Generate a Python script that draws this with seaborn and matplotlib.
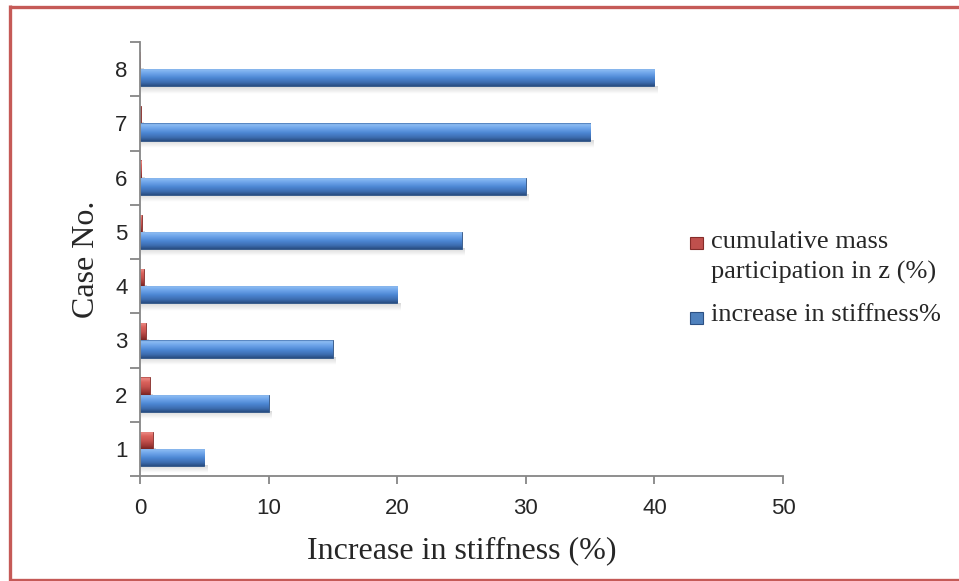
import numpy as np
import pandas as pd
import matplotlib
matplotlib.use("Agg")
import matplotlib.pyplot as plt
import seaborn as sns
from matplotlib.colors import LinearSegmentedColormap
from matplotlib.patches import Rectangle
from matplotlib.lines import Line2D

# Data
cases = ["1", "2", "3", "4", "5", "6", "7", "8"]
stiffness_increase = [5, 10, 15, 20, 25, 30, 35, 40]
mass_participation = [1.0, 0.75, 0.45, 0.3, 0.15, 0.1, 0.05, 0.02]
series_names = ["cumulative mass\nparticipation in z (%)", "increase in stiffness%"]
x_ticks = [0, 10, 20, 30, 40, 50]

df = pd.DataFrame({
    "case": cases * 2,
    "value": mass_participation + stiffness_increase,
    "series": [series_names[0]] * len(cases) + [series_names[1]] * len(cases),
})

sns.set_style("white")
plt.rcParams["font.family"] = ["Liberation Sans", "DejaVu Sans"]
SERIF = ["Liberation Serif", "DejaVu Serif"]

RED = "#C0504D"
BLUE = "#4F81BD"
AXIS_GREY = "#868686"
W, H = 959, 581

fig = plt.figure(figsize=(W / 100, H / 100), dpi=100)
ax = fig.add_axes([140 / W, 1 - 476 / H, 643 / W, 434 / H])

sns.barplot(
    data=df, y="case", x="value", hue="series",
    order=cases[::-1], hue_order=series_names,
    palette=[RED, BLUE], width=0.64, orient="h",
    errorbar=None, legend=False, ax=ax,
)

ax.set_xlim(0, 50)
ax.set_ylim(7.5, -0.5)
ax.set_autoscale_on(False)

# Bevel-like vertical shading for each bar
blue_cmap = LinearSegmentedColormap.from_list(
    "blue_bevel",
    [(0.0, "#3A68A6"), (0.07, "#8FBDF3"), (0.28, "#6EA5EA"),
     (0.55, "#4C86D3"), (0.8, "#3D6DB0"), (1.0, "#284C80")])
red_cmap = LinearSegmentedColormap.from_list(
    "red_bevel",
    [(0.0, "#A8403D"), (0.07, "#EC8A84"), (0.28, "#DA625C"),
     (0.55, "#C4514D"), (0.8, "#A03936"), (1.0, "#782523")])
edge_cols = ["#862C29", "#2C5184"]

grad = np.linspace(0, 1, 128).reshape(-1, 1)
shadow = np.zeros((32, 1, 4))
shadow[..., :3] = 0.55
shadow[:, 0, 3] = np.linspace(0.35, 0.0, 32)

for container, cmap, ec in zip(ax.containers, [red_cmap, blue_cmap], edge_cols):
    for p in container.patches:
        x0, w = p.get_x(), p.get_width()
        y0, h = p.get_y(), p.get_height()
        p.set_edgecolor(ec)
        p.set_linewidth(0.6)
        ax.imshow(shadow, extent=(x0 + 0.1, x0 + w + 0.25, y0 + h + 0.13, y0 + h),
                  origin="upper", aspect="auto", zorder=p.get_zorder() - 0.2,
                  interpolation="bilinear")
        im = ax.imshow(grad, cmap=cmap, extent=(x0, x0 + w, y0 + h, y0),
                       origin="upper", aspect="auto", zorder=p.get_zorder() + 0.1,
                       interpolation="bilinear")
        im.set_clip_path(p)

ax.set_xlim(0, 50)
ax.set_ylim(7.5, -0.5)

# Axes styling
for side in ["top", "right"]:
    ax.spines[side].set_visible(False)
for side in ["left", "bottom"]:
    ax.spines[side].set_color(AXIS_GREY)
    ax.spines[side].set_linewidth(1.3)

ax.set_xticks(x_ticks)
ax.set_xticklabels([str(t) for t in x_ticks])
ax.set_yticks(range(len(cases)))
ax.set_yticklabels(cases[::-1])
ax.set_yticks(np.arange(-0.5, len(cases), 1.0), minor=True)
ax.tick_params(axis="x", which="major", bottom=True, length=6, width=1.3,
               color=AXIS_GREY, direction="out", labelsize=16, pad=10)
ax.tick_params(axis="y", which="major", left=True, length=0, labelsize=16, pad=9)
ax.tick_params(axis="y", which="minor", left=True, length=7, width=1.3,
               color=AXIS_GREY, direction="out")

ax.set_xlabel("Increase in stiffness (%)", family=SERIF, fontsize=23, labelpad=12)
ax.set_ylabel("Case No.", family=SERIF, fontsize=23, labelpad=10)

# Legend: square keys with labels to their right
legend_fs = 19
key_specs = [(RED, edge_cols[0], 237), (BLUE, edge_cols[1], 312)]
label_lines = [series_names[0].split("\n"), series_names[1].split("\n")]
baselines = [[248, 279], [321]]
for (fc, ec, key_top), lines, bls in zip(key_specs, label_lines, baselines):
    fig.patches.append(Rectangle((690 / W, 1 - (key_top + 12) / H), 13 / W, 12 / H,
                                 transform=fig.transFigure, facecolor=fc,
                                 edgecolor=ec, linewidth=0.8))
    for line, bl in zip(lines, bls):
        fig.text(711 / W, 1 - bl / H, line, family=SERIF, fontsize=legend_fs,
                 ha="left", va="baseline")

# Frame around the figure (top, left and bottom edges)
frame_kw = dict(transform=fig.transFigure, color="#C55A57", linewidth=2.4,
                solid_capstyle="butt")
fig.lines.append(Line2D([10 / W, 1.0], [1 - 6.5 / H, 1 - 6.5 / H], **frame_kw))
fig.lines.append(Line2D([10 / W, 10 / W], [1 - 5 / H, 1 - 581 / H], **frame_kw))
fig.lines.append(Line2D([10 / W, 1.0], [1 - 579.5 / H, 1 - 579.5 / H], **frame_kw))

fig.savefig("out.png", dpi=100)
